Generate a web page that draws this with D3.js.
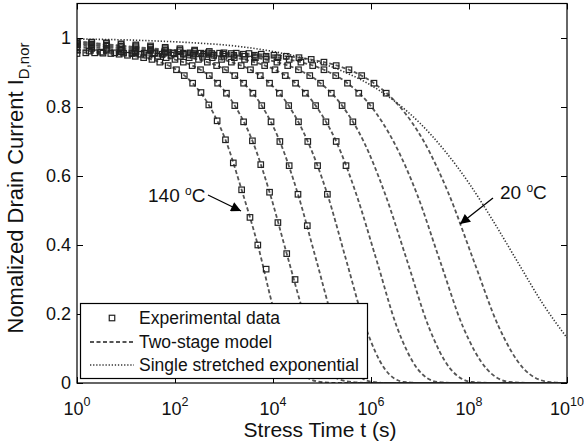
<!DOCTYPE html>
<html>
<head>
<meta charset="utf-8">
<script src="https://cdn.jsdelivr.net/npm/d3@7"></script>
<style>
  html, body { margin: 0; padding: 0; background: #fff; }
  svg { display: block; font-family: "Liberation Sans", Arial, sans-serif; }
</style>
</head>
<body>
<svg id="chart" width="584" height="444"></svg>
<script>
// Each pair is [log10(stress time in s), normalized drain current].

// Two-stage model curves, hottest (140 °C) to coolest (20 °C)
const modelA = [[0,0.958],[0.36,0.957],[0.69,0.955],[1.03,0.950],[1.36,0.943],[1.69,0.930],[2.03,0.908],[2.36,0.869],[2.69,0.806],[3.03,0.705],[3.36,0.560],[3.69,0.400],[4.03,0.205],[4.36,0.072],[4.69,0.016],[5.03,0.002],[5.4,0],[10,0]];
const modelB = [[0,0.966],[0.77,0.957],[1.12,0.955],[1.47,0.950],[1.82,0.943],[2.17,0.930],[2.52,0.908],[2.87,0.869],[3.22,0.804],[3.58,0.702],[3.93,0.553],[4.28,0.375],[4.63,0.200],[4.98,0.062],[5.33,0.012],[5.68,0.002],[6.0,0],[10,0]];
const modelC = [[0,0.975],[1.18,0.957],[1.55,0.955],[1.92,0.950],[2.29,0.943],[2.66,0.930],[3.03,0.908],[3.40,0.869],[3.77,0.804],[4.14,0.700],[4.51,0.547],[4.88,0.358],[5.25,0.170],[5.62,0.045],[5.99,0.004],[6.36,0],[10,0]];
const modelD = [[0,0.980],[1.59,0.957],[1.98,0.955],[2.37,0.950],[2.76,0.943],[3.15,0.930],[3.54,0.908],[3.93,0.869],[4.32,0.804],[4.71,0.700],[5.11,0.547],[5.50,0.353],[5.89,0.162],[6.28,0.041],[6.67,0.003],[7.06,0],[10,0]];
const modelE = [[0,0.985],[1.96,0.957],[2.38,0.955],[2.79,0.950],[3.21,0.943],[3.62,0.930],[4.04,0.908],[4.46,0.869],[4.87,0.804],[5.29,0.700],[5.70,0.547],[6.12,0.353],[6.53,0.162],[6.95,0.041],[7.36,0.003],[7.78,0],[10,0]];
const modelF = [[0,0.985],[2.31,0.957],[2.75,0.955],[3.20,0.950],[3.64,0.943],[4.08,0.930],[4.52,0.908],[4.97,0.869],[5.41,0.804],[5.85,0.700],[6.29,0.547],[6.74,0.353],[7.18,0.162],[7.62,0.041],[8.06,0.003],[8.51,0],[10,0]];
const modelG = [[0,0.990],[2.68,0.957],[3.15,0.955],[3.62,0.950],[4.10,0.943],[4.57,0.930],[5.04,0.908],[5.52,0.869],[5.99,0.804],[6.46,0.700],[6.94,0.547],[7.41,0.353],[7.88,0.162],[8.36,0.041],[8.83,0.003],[9.30,0],[10,0]];
const modelH = [[0,0.990],[3.00,0.957],[3.51,0.955],[4.02,0.950],[4.53,0.943],[5.04,0.930],[5.55,0.908],[6.06,0.869],[6.57,0.804],[7.08,0.700],[7.59,0.547],[8.10,0.353],[8.61,0.162],[9.12,0.041],[9.63,0.003],[10,0]];

// Single stretched exponential fit for 20 °C
const stretched20 = [[0,0.997],[0.5,0.996],[1,0.9945],[1.5,0.992],[2,0.989],[2.5,0.985],[3,0.980],[3.5,0.972],[4,0.961],[4.5,0.946],[5,0.926],[5.5,0.899],[6,0.863],[6.5,0.815],[7,0.753],[7.5,0.674],[8,0.579],[8.5,0.468],[9,0.349],[9.5,0.231],[10,0.131]];

// Measured points
const measA = [[0,0.955],[0.18,0.957],[0.36,0.957],[0.53,0.956],[0.69,0.955],[0.86,0.953],[1.03,0.950],[1.19,0.947],[1.36,0.943],[1.53,0.938],[1.69,0.930],[1.86,0.920],[2.03,0.908],[2.19,0.891],[2.36,0.869],[2.53,0.842],[2.69,0.806],[2.86,0.760],[3.03,0.705],[3.19,0.638],[3.36,0.560],[3.53,0.480],[3.69,0.400],[3.86,0.330]];
const measB = [[0,0.965],[0.25,0.962],[0.5,0.959],[0.77,0.957],[0.95,0.956],[1.12,0.955],[1.30,0.953],[1.47,0.950],[1.65,0.947],[1.82,0.943],[2.00,0.938],[2.17,0.930],[2.35,0.920],[2.52,0.908],[2.70,0.891],[2.87,0.869],[3.05,0.840],[3.22,0.804],[3.40,0.757],[3.58,0.702],[3.75,0.633],[3.93,0.553],[4.10,0.465],[4.28,0.375],[4.45,0.300]];
const measC = [[0,0.975],[0.3,0.970],[0.6,0.965],[0.9,0.960],[1.18,0.957],[1.37,0.956],[1.55,0.955],[1.74,0.953],[1.92,0.950],[2.11,0.947],[2.29,0.943],[2.48,0.938],[2.66,0.930],[2.85,0.920],[3.03,0.908],[3.22,0.891],[3.40,0.869],[3.59,0.840],[3.77,0.804],[3.96,0.757],[4.14,0.700],[4.33,0.630],[4.51,0.547],[4.70,0.456]];
const measD = [[0,0.980],[0.3,0.975],[0.6,0.970],[0.9,0.965],[1.2,0.960],[1.59,0.957],[1.78,0.956],[1.98,0.955],[2.17,0.953],[2.37,0.950],[2.56,0.947],[2.76,0.943],[2.95,0.938],[3.15,0.930],[3.35,0.920],[3.54,0.908],[3.74,0.891],[3.93,0.869],[4.13,0.840],[4.32,0.804],[4.52,0.757],[4.71,0.700],[4.91,0.630],[5.11,0.547]];
const measE = [[0,0.985],[0.3,0.980],[0.6,0.976],[0.9,0.972],[1.2,0.968],[1.5,0.964],[1.8,0.960],[1.96,0.957],[2.17,0.956],[2.38,0.955],[2.59,0.953],[2.79,0.950],[3.00,0.947],[3.21,0.943],[3.42,0.938],[3.62,0.930],[3.83,0.920],[4.04,0.908],[4.25,0.891],[4.46,0.869],[4.66,0.840],[4.87,0.804],[5.08,0.757],[5.29,0.700],[5.49,0.630]];
const measF = [[0,0.985],[0.3,0.982],[0.6,0.979],[0.9,0.976],[1.2,0.972],[1.5,0.968],[1.8,0.964],[2.1,0.960],[2.31,0.957],[2.53,0.956],[2.75,0.955],[2.98,0.953],[3.20,0.950],[3.42,0.947],[3.64,0.943],[3.86,0.938],[4.08,0.930],[4.30,0.920],[4.52,0.908],[4.75,0.891],[4.97,0.869],[5.19,0.840],[5.41,0.804],[5.63,0.757]];
const measG = [[0,0.990],[0.3,0.987],[0.6,0.984],[0.9,0.981],[1.2,0.977],[1.5,0.973],[1.8,0.969],[2.1,0.965],[2.4,0.961],[2.68,0.957],[2.91,0.956],[3.15,0.955],[3.39,0.953],[3.62,0.950],[3.86,0.947],[4.10,0.943],[4.33,0.938],[4.57,0.930],[4.81,0.920],[5.04,0.908],[5.28,0.891],[5.52,0.869],[5.75,0.840],[5.99,0.804]];
const measH = [[0,0.990],[0.3,0.988],[0.6,0.986],[0.9,0.983],[1.2,0.980],[1.5,0.977],[1.8,0.973],[2.1,0.969],[2.4,0.965],[2.7,0.961],[3.00,0.957],[3.25,0.956],[3.51,0.955],[3.76,0.953],[4.02,0.950],[4.27,0.947],[4.53,0.943],[4.78,0.938],[5.04,0.930],[5.29,0.920],[5.55,0.908],[5.81,0.891],[6.06,0.869],[6.31,0.840]];

const modelCurves = [modelA, modelB, modelC, modelD, modelE, modelF, modelG, modelH];
const measuredSets = [measA, measB, measC, measD, measE, measF, measG, measH];

const xTickExponents = [0, 2, 4, 6, 8, 10];
const yTickValues = [0, 0.2, 0.4, 0.6, 0.8, 1];
const legendLabels = ["Experimental data", "Two-stage model", "Single stretched exponential"];
const xTitle = "Stress Time t (s)";
const yTitleMain = "Nomalized Drain Current I";
const yTitleSub = "D,nor";

// ---- layout ----
const svg = d3.select("#chart");
const plot = { left: 77, right: 567, top: 3.5, bottom: 383 };

const x = d3.scaleLog().domain([1, 1e10]).range([plot.left, plot.right]);
const y = d3.scaleLinear().domain([0, 1.1]).range([plot.bottom, plot.top]);

const toPoint = ([e, v]) => [10 ** e, v];

svg.append("defs").append("clipPath").attr("id", "plotClip")
  .append("rect")
  .attr("x", plot.left).attr("y", plot.top)
  .attr("width", plot.right - plot.left).attr("height", plot.bottom - plot.top);

const line = d3.line()
  .x(d => x(d[0])).y(d => y(d[1]))
  .curve(d3.curveMonotoneX);

const layer = svg.append("g").attr("clip-path", "url(#plotClip)");

// dashed two-stage model curves
layer.selectAll("path.model")
  .data(modelCurves)
  .join("path")
  .attr("class", "model")
  .attr("d", d => line(d.map(toPoint)))
  .attr("fill", "none")
  .attr("stroke", "#555")
  .attr("stroke-width", 1.8)
  .attr("stroke-dasharray", "4,2.5");

// dotted single stretched exponential
layer.append("path")
  .attr("d", line(stretched20.map(toPoint)))
  .attr("fill", "none")
  .attr("stroke", "#333")
  .attr("stroke-width", 1.6)
  .attr("stroke-dasharray", "1.3,1.8");

// open square markers
const ms = 5.5;
layer.selectAll("g.meas")
  .data(measuredSets)
  .join("g")
  .attr("class", "meas")
  .selectAll("rect")
  .data(d => d.map(toPoint))
  .join("rect")
  .attr("x", d => x(d[0]) - ms / 2)
  .attr("y", d => y(d[1]) - ms / 2)
  .attr("width", ms).attr("height", ms)
  .attr("fill", "none")
  .attr("stroke", "#222")
  .attr("stroke-width", 1.2);

// ---- axes ----
const tickLen = 6;
const xTicks = xTickExponents.map(e => 10 ** e);

const styleAxis = g => {
  g.select(".domain").remove();
  g.selectAll(".tick line").attr("stroke", "#000").attr("stroke-width", 1);
};

svg.append("g")
  .attr("transform", `translate(0,${plot.bottom})`)
  .call(d3.axisBottom(x).tickValues(xTicks).tickSize(-tickLen).tickFormat(() => ""))
  .call(styleAxis);
svg.append("g")
  .attr("transform", `translate(0,${plot.top})`)
  .call(d3.axisTop(x).tickValues(xTicks).tickSize(-tickLen).tickFormat(() => ""))
  .call(styleAxis);
svg.append("g")
  .attr("transform", `translate(${plot.left},0)`)
  .call(d3.axisLeft(y).tickValues(yTickValues).tickSize(-tickLen).tickFormat(() => ""))
  .call(styleAxis);
svg.append("g")
  .attr("transform", `translate(${plot.right},0)`)
  .call(d3.axisRight(y).tickValues(yTickValues).tickSize(-tickLen).tickFormat(() => ""))
  .call(styleAxis);

// frame
svg.append("rect")
  .attr("x", plot.left).attr("y", plot.top)
  .attr("width", plot.right - plot.left).attr("height", plot.bottom - plot.top)
  .attr("fill", "none").attr("stroke", "#000").attr("stroke-width", 1.2);

// y tick labels
svg.append("g").selectAll("text")
  .data(yTickValues)
  .join("text")
  .attr("x", plot.left - 6)
  .attr("y", d => y(d))
  .attr("dy", "0.36em")
  .attr("text-anchor", "end")
  .attr("font-size", 18)
  .attr("fill", "#111")
  .text(d => d3.format("~g")(d));

// x tick labels 10^n
const xl = svg.append("g").selectAll("text")
  .data(xTickExponents)
  .join("text")
  .attr("x", e => x(10 ** e))
  .attr("y", 415)
  .attr("text-anchor", "middle")
  .attr("font-size", 18)
  .attr("fill", "#111");
xl.append("tspan").text("10");
xl.append("tspan").attr("dy", -9).attr("font-size", 12.5).text(e => e);

// axis titles
svg.append("text")
  .attr("x", (plot.left + plot.right) / 2 - 2)
  .attr("y", 437)
  .attr("text-anchor", "middle")
  .attr("font-size", 21)
  .attr("fill", "#111")
  .text(xTitle);

const yt = svg.append("text")
  .attr("transform", `translate(23,${188}) rotate(-90)`)
  .attr("text-anchor", "middle")
  .attr("font-size", 22)
  .attr("fill", "#111");
yt.append("tspan").text(yTitleMain);
yt.append("tspan").attr("dy", 6).attr("font-size", 15).text(yTitleSub);

// ---- legend ----
const lg = svg.append("g");
lg.append("rect")
  .attr("x", 80.5).attr("y", 303.5).attr("width", 287).attr("height", 75)
  .attr("fill", "#fff").attr("stroke", "#000").attr("stroke-width", 1.2);
const rowY = [318, 342, 365];
lg.append("rect")
  .attr("x", 112 - ms / 2).attr("y", rowY[0] - ms / 2)
  .attr("width", ms).attr("height", ms)
  .attr("fill", "none").attr("stroke", "#222").attr("stroke-width", 1.2);
lg.append("line")
  .attr("x1", 90).attr("x2", 134).attr("y1", rowY[1]).attr("y2", rowY[1])
  .attr("stroke", "#555").attr("stroke-width", 1.8).attr("stroke-dasharray", "4,2.5");
lg.append("line")
  .attr("x1", 90).attr("x2", 134).attr("y1", rowY[2]).attr("y2", rowY[2])
  .attr("stroke", "#333").attr("stroke-width", 1.6).attr("stroke-dasharray", "1.3,1.8");
lg.selectAll("text.lab")
  .data(legendLabels)
  .join("text")
  .attr("class", "lab")
  .attr("x", 139)
  .attr("y", (d, i) => rowY[i])
  .attr("dy", "0.36em")
  .attr("font-size", 17.5)
  .attr("fill", "#111")
  .text(d => d);

// ---- temperature annotations ----
const annotations = [
  { label: "140 ", textX: 148, textY: 202, from: [208, 195], to: [241, 211] },
  { label: "20 ", textX: 500, textY: 199, from: [493, 198], to: [460, 224] }
];
const defs = svg.select("defs");
defs.append("marker")
  .attr("id", "arrowHead")
  .attr("viewBox", "0 0 10 10")
  .attr("refX", 10).attr("refY", 5)
  .attr("markerWidth", 12).attr("markerHeight", 10)
  .attr("markerUnits", "userSpaceOnUse")
  .attr("orient", "auto")
  .append("path").attr("d", "M0,0 L10,5 L0,10 Z").attr("fill", "#000");

annotations.forEach(a => {
  const t = svg.append("text")
    .attr("x", a.textX).attr("y", a.textY)
    .attr("font-size", 19)
    .attr("fill", "#111");
  t.append("tspan").text(a.label);
  t.append("tspan").attr("dy", -7).attr("font-size", 12).text("o");
  t.append("tspan").attr("dy", 7).text("C");
  svg.append("line")
    .attr("x1", a.from[0]).attr("y1", a.from[1])
    .attr("x2", a.to[0]).attr("y2", a.to[1])
    .attr("stroke", "#000").attr("stroke-width", 1.3)
    .attr("marker-end", "url(#arrowHead)");
});
</script>
</body>
</html>
